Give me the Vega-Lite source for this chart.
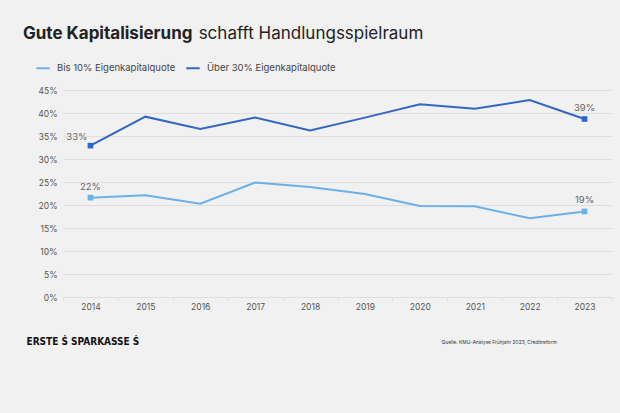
{
  "$schema": "https://vega.github.io/schema/vega-lite/v6.json",
  "width": 549,
  "height": 207,
  "autosize": "none",
  "padding": {"left": 63, "top": 90, "right": 8, "bottom": 116},
  "background": "#f1f1f1",
  "title": {
    "text": "Gute Kapitalisierung",
    "subtitle": "\u200b\u2003\u2003\u2003\u2003\u2003\u2003\u2003\u2003\u2003\u2003\u2006\u2006schafft Handlungsspielraum",
    "anchor": "start",
    "frame": "group",
    "dx": -40,
    "offset": 17,
    "font": "Inter",
    "fontSize": 17,
    "fontWeight": 700,
    "color": "#222222",
    "subtitleFont": "Inter",
    "subtitleFontSize": 17,
    "subtitleFontWeight": 400,
    "subtitleColor": "#222222",
    "subtitlePadding": -17
  },
  "config": {
    "view": {"stroke": null},
    "font": "Inter"
  },
  "data": {
    "values": [
      {"year": "2014", "series": "Bis 10% Eigenkapitalquote", "value": 0.216},
      {"year": "2015", "series": "Bis 10% Eigenkapitalquote", "value": 0.221},
      {"year": "2016", "series": "Bis 10% Eigenkapitalquote", "value": 0.203},
      {"year": "2017", "series": "Bis 10% Eigenkapitalquote", "value": 0.249},
      {"year": "2018", "series": "Bis 10% Eigenkapitalquote", "value": 0.239},
      {"year": "2019", "series": "Bis 10% Eigenkapitalquote", "value": 0.224},
      {"year": "2020", "series": "Bis 10% Eigenkapitalquote", "value": 0.198},
      {"year": "2021", "series": "Bis 10% Eigenkapitalquote", "value": 0.1975},
      {"year": "2022", "series": "Bis 10% Eigenkapitalquote", "value": 0.171},
      {"year": "2023", "series": "Bis 10% Eigenkapitalquote", "value": 0.186},
      {"year": "2014", "series": "Über 30% Eigenkapitalquote", "value": 0.329},
      {"year": "2015", "series": "Über 30% Eigenkapitalquote", "value": 0.392},
      {"year": "2016", "series": "Über 30% Eigenkapitalquote", "value": 0.365},
      {"year": "2017", "series": "Über 30% Eigenkapitalquote", "value": 0.390},
      {"year": "2018", "series": "Über 30% Eigenkapitalquote", "value": 0.362},
      {"year": "2019", "series": "Über 30% Eigenkapitalquote", "value": 0.390},
      {"year": "2020", "series": "Über 30% Eigenkapitalquote", "value": 0.419},
      {"year": "2021", "series": "Über 30% Eigenkapitalquote", "value": 0.409},
      {"year": "2022", "series": "Über 30% Eigenkapitalquote", "value": 0.428},
      {"year": "2023", "series": "Über 30% Eigenkapitalquote", "value": 0.387}
    ]
  },
  "encoding": {
    "x": {
      "field": "year",
      "type": "ordinal",
      "bandPosition": 0.5,
      "scale": {"type": "band", "paddingInner": 0, "paddingOuter": 0},
      "axis": {
        "title": "Quelle: KMU-Analyse Frühjahr 2023, Creditreform",
        "titleFont": "Inter",
        "titleFontSize": 4.9,
        "titleFontWeight": 400,
        "titleColor": "#333333",
        "titleAnchor": "start",
        "titleAlign": "left",
        "titleBaseline": "alphabetic",
        "titleX": 378,
        "titleY": 46,
        "labelAngle": 0,
        "labelFont": "Inter",
        "labelFontSize": 8.5,
        "labelColor": "#555555",
        "labelPadding": 2,
        "tickBand": "extent",
        "tickSize": 3,
        "tickColor": "#dddddd",
        "domain": false,
        "grid": false
      }
    },
    "y": {
      "field": "value",
      "type": "quantitative",
      "scale": {"domain": [0, 0.45]},
      "axis": {
        "title": "ERSTE \u1E60 SPARKASSE \u1E60",
        "titleFont": "DejaVu Sans Condensed",
        "titleFontSize": 10,
        "titleFontWeight": 700,
        "titleColor": "#111111",
        "titleAngle": 0,
        "titleAlign": "left",
        "titleBaseline": "alphabetic",
        "titleX": -37,
        "titleY": 254,
        "values": [0, 0.05, 0.1, 0.15, 0.2, 0.25, 0.3, 0.35, 0.4, 0.45],
        "format": ".0%",
        "labelFont": "Inter",
        "labelFontSize": 8.5,
        "labelColor": "#555555",
        "labelPadding": 6,
        "ticks": false,
        "domain": false,
        "gridColor": "#dedede",
        "gridWidth": 1
      }
    },
    "color": {
      "field": "series",
      "type": "nominal",
      "scale": {
        "domain": ["Bis 10% Eigenkapitalquote", "Über 30% Eigenkapitalquote"],
        "range": ["#6cb0ea", "#3566c0"]
      },
      "legend": {
        "orient": "none",
        "legendX": -28,
        "legendY": -30,
        "direction": "horizontal",
        "title": null,
        "symbolType": "stroke",
        "symbolSize": 180,
        "symbolStrokeWidth": 2,
        "labelFont": "Inter",
        "labelFontSize": 9.5,
        "labelColor": "#444444",
        "columnPadding": 6,
        "labelOffset": 6
      }
    }
  },
  "layer": [
    {
      "mark": {"type": "line", "strokeWidth": 2}
    },
    {
      "transform": [{"filter": "datum.year == '2014' || datum.year == '2023'"}],
      "mark": {"type": "square", "size": 32, "opacity": 1, "filled": true},
      "encoding": {
        "color": {
          "field": "series",
          "type": "nominal",
          "scale": {
            "domain": ["Bis 10% Eigenkapitalquote", "Über 30% Eigenkapitalquote"],
            "range": ["#6cb0ea", "#2b66d6"]
          },
          "legend": null
        }
      }
    },
    {
      "transform": [{"filter": "datum.year == '2023' || (datum.year == '2014' && datum.series == 'Bis 10% Eigenkapitalquote')"}],
      "mark": {"type": "text", "dy": -11, "font": "Inter", "fontSize": 9.5, "color": "#666666"},
      "encoding": {
        "text": {"field": "value", "type": "quantitative", "format": ".0%"},
        "color": {"value": "#666666"}
      }
    },
    {
      "transform": [{"filter": "datum.year == '2014' && datum.series == 'Über 30% Eigenkapitalquote'"}],
      "mark": {"type": "text", "dy": -9, "dx": -3, "align": "right", "font": "Inter", "fontSize": 9.5, "color": "#666666"},
      "encoding": {
        "text": {"field": "value", "type": "quantitative", "format": ".0%"},
        "color": {"value": "#666666"}
      }
    }
  ],
  "resolve": {"scale": {"color": "independent"}}
}
